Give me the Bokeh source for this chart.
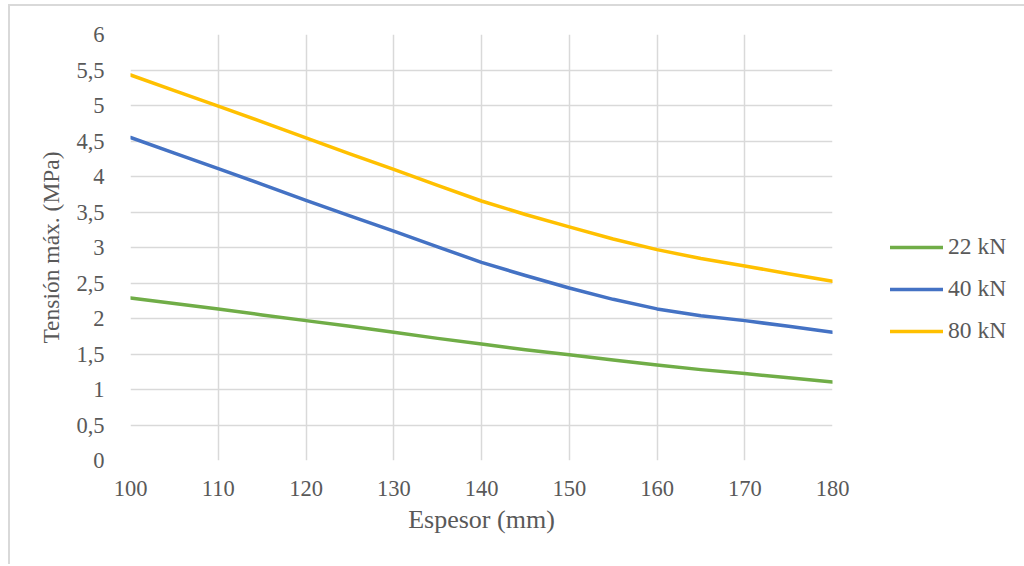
from bokeh.plotting import figure
from bokeh.models import Legend, LegendItem, FixedTicker, Range1d
from bokeh.embed import file_html
from bokeh.resources import INLINE

espesor = [100, 105, 110, 115, 120, 125, 130, 135, 140, 145, 150, 155, 160, 165, 170, 175, 180]
s22 = [2.29, 2.21, 2.135, 2.05, 1.97, 1.89, 1.805, 1.72, 1.64, 1.56, 1.49, 1.415, 1.345, 1.28, 1.225, 1.165, 1.105]
s40 = [4.55, 4.33, 4.11, 3.89, 3.665, 3.445, 3.23, 3.01, 2.79, 2.605, 2.43, 2.27, 2.135, 2.04, 1.97, 1.89, 1.805]
s80 = [5.43, 5.21, 4.99, 4.77, 4.545, 4.32, 4.10, 3.875, 3.655, 3.465, 3.29, 3.12, 2.97, 2.845, 2.74, 2.63, 2.525]
series_names = ["22 kN", "40 kN", "80 kN"]
series_colors = ["#70AD47", "#4472C4", "#FFC000"]

x_ticks = [100, 110, 120, 130, 140, 150, 160, 170, 180]
y_ticks = [0, 0.5, 1, 1.5, 2, 2.5, 3, 3.5, 4, 4.5, 5, 5.5, 6]
y_tick_labels = ["0", "0,5", "1", "1,5", "2", "2,5", "3", "3,5", "4", "4,5", "5", "5,5", "6"]

FONT = "Liberation Serif"
TXT = "#595959"
GRID = "#d9d9d9"

p = figure(frame_width=702, frame_height=426, output_backend="svg", toolbar_location=None,
           x_range=Range1d(100, 180), y_range=Range1d(0, 6),
           min_border_left=120, min_border_right=190, min_border_top=28, min_border_bottom=104)
p.styles = {"margin-left": "8px", "margin-top": "4px",
            "border-left": "2px solid #d9d9d9", "border-top": "2px solid #d9d9d9"}
p.outline_line_color = None
p.background_fill_color = "white"
p.border_fill_color = "white"

p.xaxis.ticker = FixedTicker(ticks=x_ticks)
p.yaxis.ticker = FixedTicker(ticks=y_ticks)
p.yaxis.major_label_overrides = {t: l for t, l in zip(y_ticks, y_tick_labels)}

for ax in (p.xaxis, p.yaxis):
    ax.axis_line_color = None
    ax.major_tick_line_color = None
    ax.minor_tick_line_color = None
    ax.major_label_text_font = FONT
    ax.major_label_text_font_size = "22.5px"
    ax.major_label_text_color = TXT
    ax.axis_label_text_font = FONT
    ax.axis_label_text_font_style = "normal"
    ax.axis_label_text_color = TXT

p.xaxis.axis_label = "Espesor (mm)"
p.yaxis.axis_label = "Tensión máx. (MPa)"
p.xaxis.axis_label_text_font_size = "26px"
p.yaxis.axis_label_text_font_size = "23.5px"
p.xaxis.major_label_standoff = 14
p.yaxis.major_label_standoff = 20
p.xaxis.axis_label_standoff = 6
p.yaxis.axis_label_standoff = 9

p.xgrid.grid_line_color = GRID
p.ygrid.grid_line_color = GRID
p.xgrid.grid_line_width = 1.5
p.ygrid.grid_line_width = 1.5

items = []
for vals, name, col in zip([s22, s40, s80], series_names, series_colors):
    r = p.line(espesor, vals, line_color=col, line_width=3.5, line_join="round", line_cap="round")
    items.append(LegendItem(label=name, renderers=[r]))

legend = Legend(items=items, location=(58, 116), orientation="vertical",
                glyph_width=53, glyph_height=24, label_height=24, label_standoff=5,
                spacing=15, padding=0, margin=0,
                label_text_font=FONT, label_text_font_size="23.5px", label_text_color=TXT,
                border_line_color=None, background_fill_alpha=0)
p.add_layout(legend, "right")

open("out.html", "w").write(file_html(p, INLINE))
